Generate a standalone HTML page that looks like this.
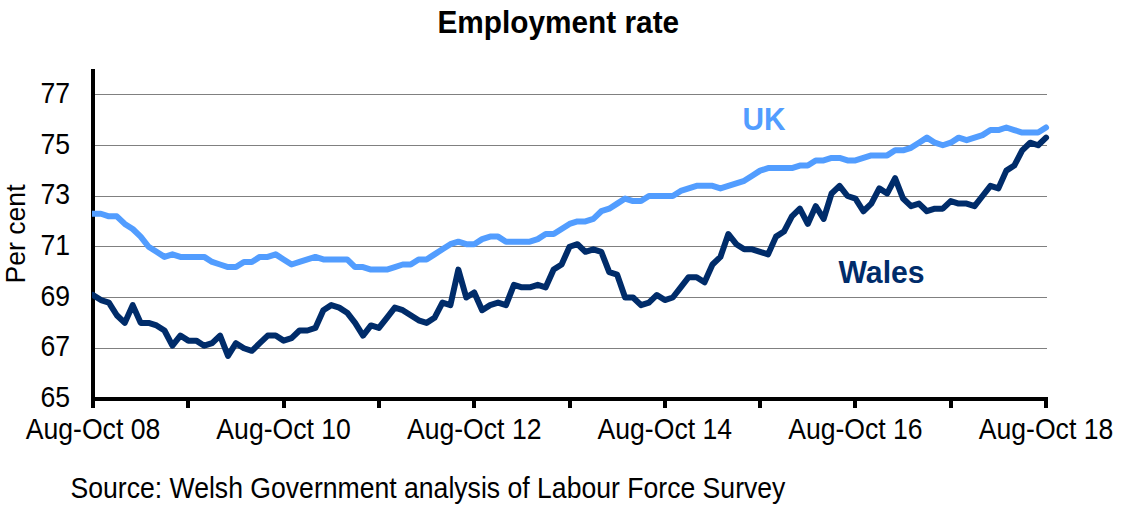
<!DOCTYPE html>
<html><head><meta charset="utf-8"><style>
html,body{margin:0;padding:0;background:#fff;}
svg{display:block;}
text{font-family:"Liberation Sans",Arial,sans-serif;}
.r{font-size:26.6px;fill:#000;}
.b{font-size:29.8px;font-weight:bold;}
</style></head><body>
<svg width="1124" height="515" viewBox="0 0 1124 515">
<defs><clipPath id="c"><rect x="92" y="0" width="1032" height="515"/></clipPath></defs>
<rect width="1124" height="515" fill="#fff"/>
<rect x="95" y="94" width="952" height="1" fill="#808080"/>
<rect x="95" y="145" width="952" height="1" fill="#808080"/>
<rect x="95" y="196" width="952" height="1" fill="#808080"/>
<rect x="95" y="246" width="952" height="1" fill="#808080"/>
<rect x="95" y="297" width="952" height="1" fill="#808080"/>
<rect x="95" y="348" width="952" height="1" fill="#808080"/>
<rect x="91" y="69" width="4" height="339" fill="#000"/>
<g clip-path="url(#c)">
<polyline points="93.00,213.76 100.94,213.76 108.88,216.30 116.83,216.30 124.77,223.91 132.71,228.99 140.65,236.60 148.59,246.75 156.54,251.83 164.48,256.90 172.42,254.36 180.36,256.90 188.30,256.90 196.25,256.90 204.19,256.90 212.13,261.97 220.07,264.51 228.01,267.05 235.96,267.05 243.90,261.97 251.84,261.97 259.78,256.90 267.72,256.90 275.67,254.36 283.61,259.44 291.55,264.51 299.49,261.97 307.43,259.44 315.38,256.90 323.32,259.44 331.26,259.44 339.20,259.44 347.14,259.44 355.09,267.05 363.03,267.05 370.97,269.59 378.91,269.59 386.85,269.59 394.80,267.05 402.74,264.51 410.68,264.51 418.62,259.44 426.56,259.44 434.51,254.36 442.45,249.29 450.39,244.21 458.33,241.67 466.27,244.21 474.22,244.21 482.16,239.14 490.10,236.60 498.04,236.60 505.98,241.67 513.93,241.67 521.87,241.67 529.81,241.67 537.75,239.14 545.69,234.06 553.64,234.06 561.58,228.99 569.52,223.91 577.46,221.38 585.40,221.38 593.35,218.84 601.29,211.22 609.23,208.69 617.17,203.61 625.11,198.54 633.06,201.08 641.00,201.08 648.94,196.00 656.88,196.00 664.82,196.00 672.77,196.00 680.71,190.92 688.65,188.39 696.59,185.85 704.53,185.85 712.48,185.85 720.42,188.39 728.36,185.85 736.30,183.31 744.24,180.78 752.19,175.70 760.13,170.62 768.07,168.09 776.01,168.09 783.95,168.09 791.90,168.09 799.84,165.55 807.78,165.55 815.72,160.47 823.66,160.47 831.61,157.94 839.55,157.94 847.49,160.47 855.43,160.47 863.37,157.94 871.32,155.40 879.26,155.40 887.20,155.40 895.14,150.33 903.08,150.33 911.03,147.79 918.97,142.71 926.91,137.64 934.85,142.71 942.79,145.25 950.74,142.71 958.68,137.64 966.62,140.17 974.56,137.64 982.50,135.10 990.45,130.03 998.39,130.03 1006.33,127.49 1014.27,130.03 1022.21,132.56 1030.16,132.56 1038.10,132.56 1046.04,127.49" fill="none" stroke="#529DFF" stroke-width="6" stroke-linejoin="round" stroke-linecap="round"/>
<polyline points="93.00,294.96 100.94,300.04 108.88,302.58 116.83,315.26 124.77,322.88 132.71,305.11 140.65,322.88 148.59,322.88 156.54,325.41 164.48,330.49 172.42,345.71 180.36,335.56 188.30,340.64 196.25,340.64 204.19,345.71 212.13,343.17 220.07,335.56 228.01,355.86 235.96,343.17 243.90,348.25 251.84,350.79 259.78,343.17 267.72,335.56 275.67,335.56 283.61,340.64 291.55,338.10 299.49,330.49 307.43,330.49 315.38,327.95 323.32,310.19 331.26,305.11 339.20,307.65 347.14,312.72 355.09,322.88 363.03,335.56 370.97,325.41 378.91,327.95 386.85,317.80 394.80,307.65 402.74,310.19 410.68,315.26 418.62,320.34 426.56,322.88 434.51,317.80 442.45,302.58 450.39,305.11 458.33,269.59 466.27,297.50 474.22,292.42 482.16,310.19 490.10,305.11 498.04,302.58 505.98,305.11 513.93,284.81 521.87,287.35 529.81,287.35 537.75,284.81 545.69,287.35 553.64,269.59 561.58,264.51 569.52,246.75 577.46,244.21 585.40,251.83 593.35,249.29 601.29,251.83 609.23,272.12 617.17,274.66 625.11,297.50 633.06,297.50 641.00,305.11 648.94,302.58 656.88,294.96 664.82,300.04 672.77,297.50 680.71,287.35 688.65,277.20 696.59,277.20 704.53,282.28 712.48,264.51 720.42,256.90 728.36,234.06 736.30,244.21 744.24,249.29 752.19,249.29 760.13,251.83 768.07,254.36 776.01,236.60 783.95,231.53 791.90,216.30 799.84,208.69 807.78,223.91 815.72,206.15 823.66,218.84 831.61,193.46 839.55,185.85 847.49,196.00 855.43,198.54 863.37,211.22 871.32,203.61 879.26,188.39 887.20,193.46 895.14,178.24 903.08,198.54 911.03,206.15 918.97,203.61 926.91,211.22 934.85,208.69 942.79,208.69 950.74,201.08 958.68,203.61 966.62,203.61 974.56,206.15 982.50,196.00 990.45,185.85 998.39,188.39 1006.33,170.62 1014.27,165.55 1022.21,150.33 1030.16,142.71 1038.10,145.25 1046.04,137.64" fill="none" stroke="#002C6A" stroke-width="6" stroke-linejoin="round" stroke-linecap="round"/>
</g>
<rect x="91" y="397" width="955" height="4" fill="#000"/>
<rect x="91" y="397" width="4" height="11" fill="#000"/>
<rect x="186" y="397" width="4" height="11" fill="#000"/>
<rect x="282" y="397" width="4" height="11" fill="#000"/>
<rect x="377" y="397" width="4" height="11" fill="#000"/>
<rect x="472" y="397" width="4" height="11" fill="#000"/>
<rect x="568" y="397" width="4" height="11" fill="#000"/>
<rect x="663" y="397" width="4" height="11" fill="#000"/>
<rect x="758" y="397" width="4" height="11" fill="#000"/>
<rect x="853" y="397" width="4" height="11" fill="#000"/>
<rect x="949" y="397" width="4" height="11" fill="#000"/>
<rect x="1044" y="397" width="4" height="11" fill="#000"/>
<text class="r" transform="translate(70,407.1) scale(1,1.1)" text-anchor="end">65</text>
<text class="r" transform="translate(70,356.4) scale(1,1.1)" text-anchor="end">67</text>
<text class="r" transform="translate(70,305.8) scale(1,1.1)" text-anchor="end">69</text>
<text class="r" transform="translate(70,255.1) scale(1,1.1)" text-anchor="end">71</text>
<text class="r" transform="translate(70,204.4) scale(1,1.1)" text-anchor="end">73</text>
<text class="r" transform="translate(70,153.8) scale(1,1.1)" text-anchor="end">75</text>
<text class="r" transform="translate(70,103.1) scale(1,1.1)" text-anchor="end">77</text>
<text class="r" transform="translate(93.0,439) scale(1,1.1)" text-anchor="middle">Aug-Oct 08</text>
<text class="r" transform="translate(283.6,439) scale(1,1.1)" text-anchor="middle">Aug-Oct 10</text>
<text class="r" transform="translate(474.2,439) scale(1,1.1)" text-anchor="middle">Aug-Oct 12</text>
<text class="r" transform="translate(664.8,439) scale(1,1.1)" text-anchor="middle">Aug-Oct 14</text>
<text class="r" transform="translate(855.4,439) scale(1,1.1)" text-anchor="middle">Aug-Oct 16</text>
<text class="r" transform="translate(1046.0,439) scale(1,1.1)" text-anchor="middle">Aug-Oct 18</text>
<text class="r" transform="translate(25.2,234) rotate(-90) scale(1,1.05)" text-anchor="middle">Per cent</text>
<text class="r" transform="translate(70.5,498) scale(1,1.1)">Source: Welsh Government analysis of Labour Force Survey</text>
<text class="b" transform="translate(558.3,33) scale(1,1.06)" text-anchor="middle" fill="#000">Employment rate</text>
<text class="b" transform="translate(742.5,130) scale(1,1.06)" fill="#529DFF">UK</text>
<text class="b" transform="translate(838.5,283) scale(1,1.06)" fill="#002C6A" textLength="86.1" lengthAdjust="spacingAndGlyphs">Wales</text>
</svg>
</body></html>
